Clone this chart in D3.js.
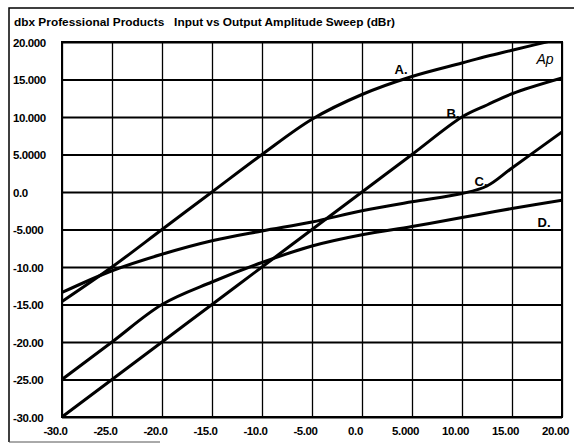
<!DOCTYPE html>
<html>
<head>
<meta charset="utf-8">
<script src="https://cdn.jsdelivr.net/npm/d3@7"></script>
<style>
  html, body { margin: 0; padding: 0; background: #fff; }
  svg { display: block; }
  .lbl { font-family: "Liberation Sans", Arial, sans-serif; font-weight: bold; fill: #000; }
</style>
</head>
<body>
<div id="chart"></div>
<script>
// Input level (dBr) and output curves
const inputLevels = [-30, -25, -20, -15, -10, -5, 0, 5, 10, 12.5, 15, 20];
const curveA = [-14.6, -10, -5, 0, 5, 9.7, 13.0, 15.4, 17.2, 18.1, 18.9, 20.5];
const curveB = [-30, -25, -20, -15, -10, -5, 0, 5, 10, 11.6, 13.1, 15.2];
const curveC = [-13.4, -10.5, -8.3, -6.5, -5.2, -4.0, -2.5, -1.3, -0.2, 0.8, 3.2, 8.0];
const curveD = [-25, -20, -15, -12, -9.4, -7.2, -5.7, -4.6, -3.4, -2.8, -2.2, -1.1];

const xTicks = [-30, -25, -20, -15, -10, -5, 0, 5, 10, 15, 20];
const xTickLabels = ["-30.0", "-25.0", "-20.0", "-15.0", "-10.0", "-5.00", "0.0", "5.000", "10.00", "15.00", "20.00"];
const yTicks = [20, 15, 10, 5, 0, -5, -10, -15, -20, -25, -30];
const yTickLabels = ["20.000", "15.000", "10.000", "5.0000", "0.0", "-5.000", "-10.00", "-15.00", "-20.00", "-25.00", "-30.00"];

const curveNames = ["A.", "B.", "C.", "D."];
const curveLabelPos = [[3.9, 16.3], [9.1, 10.5], [11.9, 1.4], [18.2, -4.1]];

const W = 574, H = 444;
const margin = { top: 42, right: 12, bottom: 27, left: 62 };
const width = W - margin.left - margin.right;
const height = H - margin.top - margin.bottom;

const svg = d3.select("#chart").append("svg")
    .attr("width", W).attr("height", H);

// cadre extérieur (scan)
svg.append("path")
    .attr("d", `M9,${H - 2} L9,8 L${W},8`)
    .attr("fill", "none").attr("stroke", "#000").attr("stroke-width", 1.5);
svg.append("line")
    .attr("x1", 9).attr("x2", 160).attr("y1", H - 2).attr("y2", H - 2)
    .attr("stroke", "#555").attr("stroke-width", 1);

svg.append("text")
    .attr("class", "lbl")
    .attr("x", 14).attr("y", 26)
    .attr("xml:space", "preserve")
    .style("white-space", "pre")
    .style("font-size", "11px")
    .attr("textLength", 381).attr("lengthAdjust", "spacingAndGlyphs")
    .text("dbx Professional Products   Input vs Output Amplitude Sweep (dBr)");

const g = svg.append("g").attr("transform", `translate(${margin.left},${margin.top})`);

const x = d3.scaleLinear().domain([-30, 20]).range([0, width]);
const y = d3.scaleLinear().domain([-30, 20]).range([height, 0]);

// grille horizontale + labels Y
const yAxis = g.append("g")
    .call(d3.axisLeft(y).tickValues(yTicks).tickSize(-width)
        .tickFormat((d, i) => yTickLabels[i]));
yAxis.select(".domain").remove();
yAxis.selectAll("line").attr("stroke", "#000").attr("stroke-width", 1.8);
yAxis.selectAll("text")
    .attr("class", "lbl")
    .attr("text-anchor", "start")
    .attr("x", 13 - margin.left)
    .attr("dy", "0.35em")
    .style("font-size", "11.5px")
    .style("letter-spacing", "-0.4px");

// grille verticale + labels X
const xAxis = g.append("g")
    .attr("transform", `translate(0,${height})`)
    .call(d3.axisBottom(x).tickValues(xTicks).tickSize(-height)
        .tickFormat((d, i) => xTickLabels[i]));
xAxis.select(".domain").remove();
xAxis.selectAll("line").attr("stroke", "#000").attr("stroke-width", 1.3);
xAxis.selectAll("text")
    .attr("class", "lbl")
    .attr("y", 10)
    .attr("dx", -7)
    .attr("dy", "0.71em")
    .style("font-size", "11.5px")
    .style("letter-spacing", "-0.4px");

g.append("rect")
    .attr("width", width).attr("height", height)
    .attr("fill", "none").attr("stroke", "#000").attr("stroke-width", 2);

g.append("clipPath").attr("id", "plot-clip")
    .append("rect").attr("width", width).attr("height", height);

const line = d3.line()
    .x(d => x(d[0]))
    .y(d => y(d[1]))
    .curve(d3.curveCatmullRom.alpha(0.5));

[curveA, curveB, curveC, curveD].forEach(vals => {
    g.append("path")
        .datum(inputLevels.map((v, i) => [v, vals[i]]))
        .attr("clip-path", "url(#plot-clip)")
        .attr("fill", "none")
        .attr("stroke", "#000")
        .attr("stroke-width", 3)
        .attr("stroke-linejoin", "round")
        .attr("d", line);
});

g.selectAll(".curve-label")
    .data(curveNames)
    .join("text")
    .attr("class", "lbl")
    .attr("x", (d, i) => x(curveLabelPos[i][0]))
    .attr("y", (d, i) => y(curveLabelPos[i][1]))
    .attr("text-anchor", "middle")
    .attr("dy", "0.35em")
    .style("font-size", "13px")
    .text(d => d);

g.append("text")
    .attr("x", x(18.3)).attr("y", y(17.7))
    .attr("text-anchor", "middle")
    .attr("dy", "0.35em")
    .style("font-family", "'Liberation Sans', Arial, sans-serif")
    .style("font-style", "italic")
    .style("font-size", "14px")
    .text("Ap");
</script>
</body>
</html>
